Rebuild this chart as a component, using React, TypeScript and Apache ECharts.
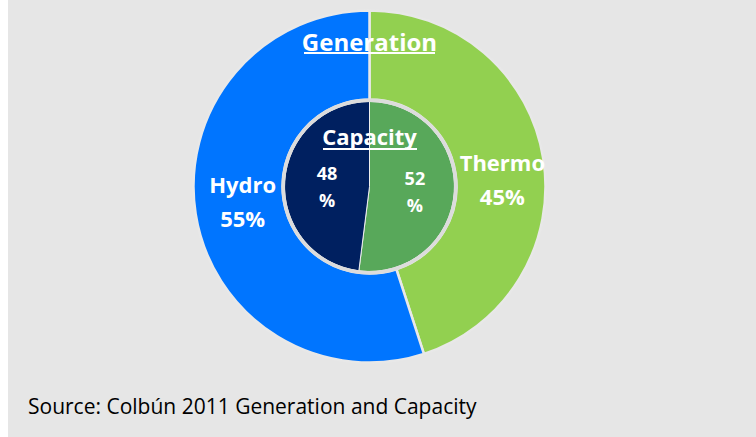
import React, { useEffect, useRef } from "react";
import * as echarts from "echarts";

const generationNames = ["Thermo", "Hydro"];
const generationValues = [45, 55];
const generationColors = ["#92D050", "#0075FF"];

const capacityNames = ["Thermo", "Hydro"];
const capacityValues = [52, 48];
const capacityColors = ["#58A85A", "#002060"];

const outerTitle = "Generation";
const innerTitle = "Capacity";
const sourceText = "Source: Colbún 2011 Generation and Capacity";

const FONT = "'Open Sans', 'Noto Sans', sans-serif";

// label nudges (layout only)
const outerOffsets = [
  [0, 14],
  [6, -7],
];
const innerOffsets = [
  [0, 2],
  [3, 3],
];

export default function App() {
  const ref = useRef<HTMLDivElement>(null);
  useEffect(() => {
    if (!ref.current) return;
    const chart = echarts.init(ref.current, null, { renderer: "svg" });
    const cx = 361.5;
    const cy = 186.5;
    chart.setOption({
      animation: false,
      backgroundColor: "#e6e6e6",
      series: [
        {
          type: "pie",
          center: [cx, cy],
          radius: [87, 176],
          startAngle: 90,
          clockwise: true,
          silent: true,
          itemStyle: { borderColor: "#e8e8e8", borderWidth: 2.5 },
          label: {
            position: "inside",
            formatter: "{b}\n{c}%",
            color: "#ffffff",
            fontFamily: FONT,
            fontWeight: "bold",
            fontSize: 22,
            lineHeight: 34,
          },
          labelLine: { show: false },
          data: generationNames.map((n, i) => ({
            name: n,
            value: generationValues[i],
            itemStyle: { color: generationColors[i] },
            label: { offset: outerOffsets[i] },
          })),
        },
        {
          type: "pie",
          center: [cx, cy],
          radius: [0, 85],
          startAngle: 90,
          clockwise: true,
          silent: true,
          itemStyle: { borderColor: "#eeeeee", borderWidth: 1 },
          label: {
            position: "inside",
            formatter: "{c}\n%",
            color: "#ffffff",
            fontFamily: FONT,
            fontWeight: "bold",
            fontSize: 18,
            lineHeight: 27,
          },
          labelLine: { show: false },
          data: capacityNames.map((n, i) => ({
            name: n,
            value: capacityValues[i],
            itemStyle: { color: capacityColors[i] },
            label: { offset: innerOffsets[i] },
          })),
        },
        {
          type: "pie",
          center: [cx, cy],
          radius: [84.5, 88],
          silent: true,
          label: { show: false },
          labelLine: { show: false },
          itemStyle: { color: "#dcdcdc" },
          data: [{ value: 1, name: "ring" }],
        },
      ],
      graphic: [
        {
          type: "text",
          x: cx,
          y: 41,
          z: 100,
          style: {
            text: outerTitle,
            fill: "#ffffff",
            font: `bold 24px ${FONT}`,
            textAlign: "center",
            textVerticalAlign: "middle",
          },
        },
        {
          type: "line",
          z: 100,
          shape: { x1: 296, y1: 53, x2: 427, y2: 53 },
          style: { stroke: "#ffffff", lineWidth: 2 },
        },
        {
          type: "text",
          x: cx,
          y: 136,
          z: 100,
          style: {
            text: innerTitle,
            fill: "#ffffff",
            font: `bold 22px ${FONT}`,
            textAlign: "center",
            textVerticalAlign: "middle",
          },
        },
        {
          type: "line",
          z: 100,
          shape: { x1: 315, y1: 149, x2: 409, y2: 149 },
          style: { stroke: "#ffffff", lineWidth: 2 },
        },
        {
          type: "text",
          x: 20,
          y: 406,
          z: 100,
          style: {
            text: sourceText,
            fill: "#000000",
            font: `21px ${FONT}`,
            textVerticalAlign: "middle",
          },
        },
      ],
    });
    return () => chart.dispose();
  }, []);
  return (
    <div
      ref={ref}
      style={{ position: "absolute", left: 8, top: 0, width: 748, height: 437 }}
    />
  );
}
